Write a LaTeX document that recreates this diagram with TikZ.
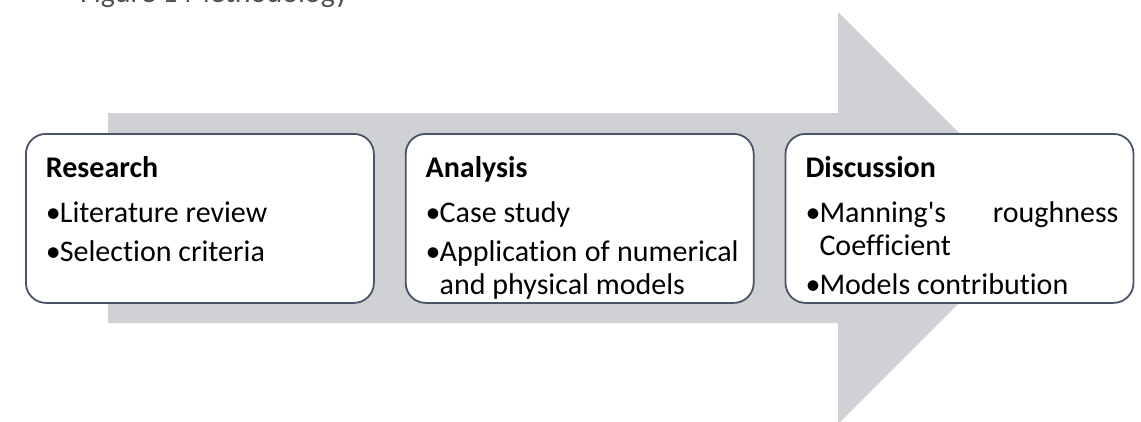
\documentclass[tikz,border=0pt]{standalone}
\usepackage{fontspec}
\setmainfont{Carlito}[RawFeature={-liga}]
\definecolor{arrowgrey}{HTML}{CFD1D4}
\definecolor{boxedge}{HTML}{4A5468}
\definecolor{captiongrey}{HTML}{505050}
\usetikzlibrary{positioning}

% text block of one stage box
\newcommand{\stagetext}[2]{%
  \makebox[348pt][l]{\hspace{20pt}%
  \begin{minipage}[c][169pt][t]{313pt}
    \fontsize{30pt}{33pt}\selectfont\hyphenpenalty=10000\parskip=6pt
    \spaceskip=0.23em plus 0.2em minus 0.09em
    \noindent\rule{0pt}{44pt}\textbf{#1}\par\vspace{6pt}
    #2
  \end{minipage}}}
\newcommand{\stageitem}[1]{%
  \par\hangindent=14pt\hangafter=1\noindent\makebox[14pt][l]{\textbullet}#1\par}

\begin{document}
\begin{tikzpicture}[x=1pt, y=-1pt, node distance=30pt,
    stage/.style={draw=boxedge, line width=1.8pt, fill=white, rounded corners=20pt,
      minimum width=348pt, minimum height=169pt, inner sep=0pt}]
  \useasboundingbox (0,0) rectangle (1141,421);
  \node[anchor=base west, font=\fontsize{30pt}{33pt}\selectfont, text=captiongrey,
    inner sep=0pt] (caption) at (80,2) {Figure 1 Methodology};
  % big arrow behind the stages
  \fill[arrowgrey] (108,113) -- (838,113) -- (838,12) -- (1044,218) -- (838,424)
    -- (838,323) -- (108,323) -- cycle;
  \node[stage, anchor=north west] (research) at (25,133)
    {\stagetext{Research}{\stageitem{Literature review}\stageitem{Selection criteria}}};
  \node[stage, right=of research] (analysis)
    {\stagetext{Analysis}{\stageitem{Case study}\stageitem{Application of numerical and physical models}}};
  \node[stage, right=of analysis] (discussion)
    {\stagetext{Discussion}{\stageitem{Manning\textquotesingle s roughness Coefficient}\stageitem{Models contribution}}};
\end{tikzpicture}
\end{document}
